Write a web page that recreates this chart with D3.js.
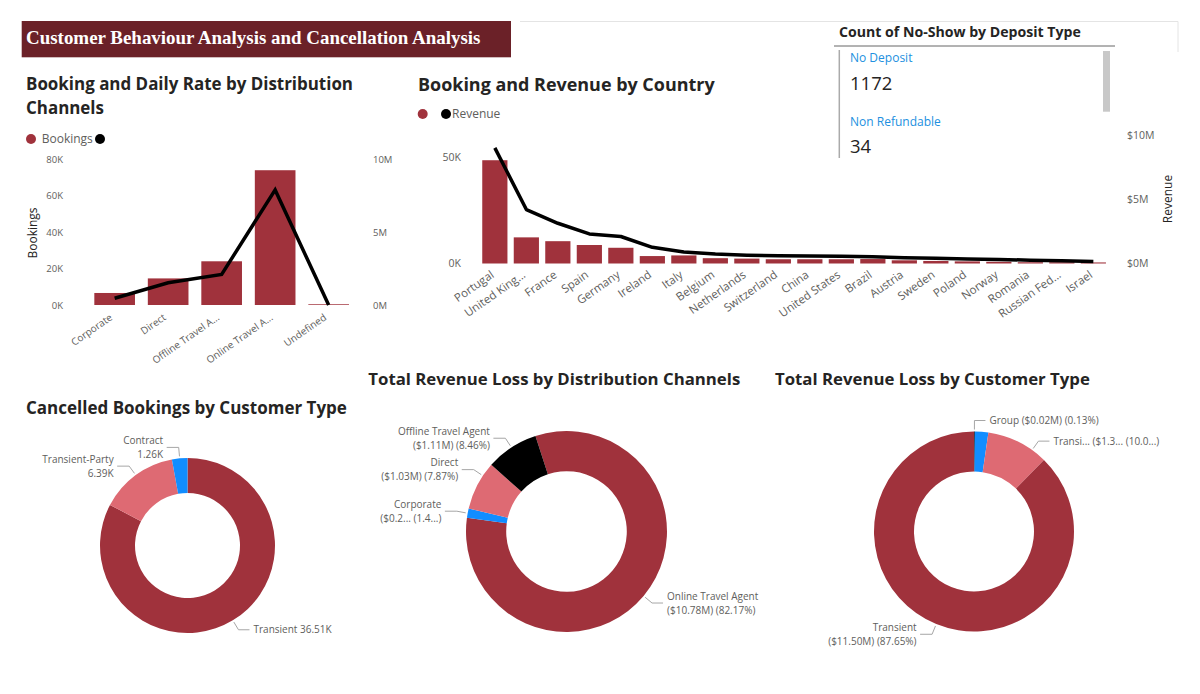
<!DOCTYPE html>
<html><head><meta charset="utf-8">
<script src="https://cdn.jsdelivr.net/npm/d3@7"></script>
<style>
body{margin:0;background:#fff;}
svg{display:block;font-family:'Open Sans',sans-serif;}
</style></head><body>
<svg id="c" width="1200" height="694"></svg>
<script>
// ---------------- DATA ----------------
const channels = ["Corporate","Direct","Offline Travel A...","Online Travel A...","Undefined"];
const channelBookings = [6600,14600,24000,74000,400];
const channelRevenueM = [0.46,1.53,2.1,7.9,0];
const channelBookingTicks = [0,20000,40000,60000,80000];
const channelBookingTickLabels = ["0K","20K","40K","60K","80K"];
const channelRevenueTicks = [0,5,10];
const channelRevenueTickLabels = ["0M","5M","10M"];

const countries = ["Portugal","United King...","France","Spain","Germany","Ireland","Italy","Belgium","Netherlands","Switzerland","China","United States","Brazil","Austria","Sweden","Poland","Norway","Romania","Russian Fed...","Israel"];
const countryBookings = [48600,12300,10500,8700,7400,3500,3800,2500,2300,2000,2000,2000,2100,1500,1200,1000,800,600,600,500];
const countryRevenueM = [9.0,4.2,3.13,2.3,2.1,1.26,0.9,0.74,0.65,0.6,0.58,0.56,0.52,0.45,0.4,0.35,0.31,0.26,0.22,0.15];
const countryBookingTicks = [0,50000];
const countryBookingTickLabels = ["0K","50K"];
const countryRevenueTicks = [0,5,10];
const countryRevenueTickLabels = ["$0M","$5M","$10M"];

const depositTypes = ["No Deposit","Non Refundable"];
const noShowCounts = [1172,34];

const cancelTypes = ["Transient","Transient-Party","Contract"];
const cancelCounts = [36510,6390,1260];
const cancelLabels = [["Transient 36.51K"],["Transient-Party","6.39K"],["Contract","1.26K"]];

const lossChannels = ["Online Travel Agent","Corporate","Direct","Offline Travel Agent"];
const lossChannelValuesM = [10.78,0.197,1.033,1.11];
const lossChannelLabels = [["Online Travel Agent","($10.78M) (82.17%)"],["Corporate","($0.2... (1.4...)"],["Direct","($1.03M) (7.87%)"],["Offline Travel Agent","($1.11M) (8.46%)"]];

const lossCustTypes = ["Group","Contract","Transient-Party","Transient"];
const lossCustValuesM = [0.017,0.285,1.315,11.5];
const lossCustLabels = [["Group ($0.02M) (0.13%)"],null,["Transi... ($1.3... (10.0...)"],["Transient","($11.50M) (87.65%)"]];

// ---------------- STYLE ----------------
const DARK="#A0323C", PINK="#DE6A73", BLUE="#118DFF", BLACK="#000000";
const AX="#605E5C", TITLE="#252423";
const svg = d3.select("#c");

function fit(sel,w){
  const l=sel.node().getComputedTextLength();
  const fs=parseFloat(sel.attr("font-size"));
  const n=fs*w/l; sel.attr("font-size",n.toFixed(2)); return n;
}
function title(x,y,t,w){
  const s=svg.append("text").attr("x",x).attr("y",y).attr("font-size",19)
    .attr("font-weight",700).attr("fill",TITLE).text(t);
  return fit(s,w);
}
function styleAxis(g,fs){
  g.select(".domain").remove();
  g.selectAll("text").attr("fill",AX).attr("font-size",fs).attr("font-family","'Open Sans',sans-serif");
}

// ---------------- BANNER ----------------
svg.append("path").attr("d","M520,21.5H1178V52").attr("fill","none").attr("stroke","#e4e4e4");
svg.append("rect").attr("x",21.7).attr("y",21).attr("width",489.3).attr("height",36.3).attr("fill","#6B2128");
const bt=svg.append("text").attr("x",26).attr("y",44).attr("font-family","'Liberation Serif','Times New Roman',serif")
  .attr("font-weight","bold").attr("font-size",20).attr("fill","#fff")
  .text("Customer Behaviour Analysis and Cancellation Analysis");
fit(bt,455);

// ---------------- CHART 1: Booking and Daily Rate ----------------
const fs1=title(26,90,"Booking and Daily Rate by Distribution",327);
svg.append("text").attr("x",26).attr("y",113.5).attr("font-size",fs1).attr("font-weight",700).attr("fill",TITLE).text("Channels");

svg.append("circle").attr("cx",31).attr("cy",139).attr("r",5).attr("fill",DARK);
svg.append("text").attr("x",41.7).attr("y",139).attr("dy","0.35em").attr("font-size",12).attr("fill",AX).text("Bookings");
svg.append("circle").attr("cx",100).attr("cy",139).attr("r",5).attr("fill",BLACK);

const x1=d3.scaleBand().domain(channels).range([87.9,355.4]).paddingInner(0.24).paddingOuter(0.12);
const y1L=d3.scaleLinear().domain([0,80000]).range([305,159.3]);
const y1R=d3.scaleLinear().domain([0,10]).range([305,159.3]);

svg.append("g").selectAll("rect").data(channels).join("rect")
  .attr("x",d=>x1(d)).attr("width",x1.bandwidth())
  .attr("y",(d,i)=>y1L(channelBookings[i])).attr("height",(d,i)=>y1L(0)-y1L(channelBookings[i]))
  .attr("fill",DARK);
svg.append("path").datum(channelRevenueM)
  .attr("d",d3.line().x((d,i)=>x1(channels[i])+x1.bandwidth()/2).y(d=>y1R(d)))
  .attr("fill","none").attr("stroke",BLACK).attr("stroke-width",3.5);

const a1l=svg.append("g").attr("transform","translate(66,0)")
  .call(d3.axisLeft(y1L).tickValues(channelBookingTicks).tickFormat((d,i)=>channelBookingTickLabels[i]).tickSize(0).tickPadding(3));
styleAxis(a1l,9.5);
const a1r=svg.append("g").attr("transform","translate(370,0)")
  .call(d3.axisRight(y1R).tickValues(channelRevenueTicks).tickFormat((d,i)=>channelRevenueTickLabels[i]).tickSize(0).tickPadding(3));
styleAxis(a1r,9.5);
const a1x=svg.append("g").attr("transform","translate(0,305)").call(d3.axisBottom(x1).tickSize(0));
styleAxis(a1x,10);
a1x.selectAll("text").attr("y",0).attr("dy",0).attr("transform","translate(-1.5,14) rotate(-35)").style("text-anchor","end");
svg.append("text").attr("transform","translate(36.5,233) rotate(-90)").attr("text-anchor","middle")
  .attr("font-size",12).attr("fill",TITLE).text("Bookings");

// ---------------- CHART 2: Booking and Revenue by Country ----------------
title(418,90.5,"Booking and Revenue by Country",297);
svg.append("circle").attr("cx",422.7).attr("cy",114).attr("r",5).attr("fill",DARK);
svg.append("circle").attr("cx",446).attr("cy",114).attr("r",5).attr("fill",BLACK);
svg.append("text").attr("x",452).attr("y",114).attr("dy","0.35em").attr("font-size",12).attr("fill",AX).text("Revenue");

const x2=d3.scaleBand().domain(countries).range([479.1,1109.1]).paddingInner(0.2).paddingOuter(0.1);
const y2L=d3.scaleLinear().domain([0,60000]).range([263.5,136]);
const y2R=d3.scaleLinear().domain([0,10]).range([263.5,135]);
svg.append("g").selectAll("rect").data(countries).join("rect")
  .attr("x",d=>x2(d)).attr("width",x2.bandwidth())
  .attr("y",(d,i)=>y2L(countryBookings[i])).attr("height",(d,i)=>y2L(0)-y2L(countryBookings[i]))
  .attr("fill",DARK);
svg.append("path").datum(countryRevenueM)
  .attr("d",d3.line().x((d,i)=>x2(countries[i])+x2.bandwidth()/2).y(d=>y2R(d)))
  .attr("fill","none").attr("stroke",BLACK).attr("stroke-width",3.5).attr("stroke-linejoin","round");
const a2l=svg.append("g").attr("transform","translate(464,0)")
  .call(d3.axisLeft(y2L).tickValues(countryBookingTicks).tickFormat((d,i)=>countryBookingTickLabels[i]).tickSize(0).tickPadding(3));
styleAxis(a2l,10.5);
const a2r=svg.append("g").attr("transform","translate(1124,0)")
  .call(d3.axisRight(y2R).tickValues(countryRevenueTicks).tickFormat((d,i)=>countryRevenueTickLabels[i]).tickSize(0).tickPadding(3));
styleAxis(a2r,10.5);
const a2x=svg.append("g").attr("transform","translate(0,263.5)").call(d3.axisBottom(x2).tickSize(0));
styleAxis(a2x,11.5);
a2x.selectAll("text").attr("y",0).attr("dy",0).attr("transform","translate(0,13) rotate(-35)").style("text-anchor","end");
svg.append("text").attr("transform","translate(1172,199) rotate(-90)").attr("text-anchor","middle")
  .attr("font-size",12).attr("fill",TITLE).text("Revenue");

// ---------------- CARD: No-show ----------------
const ct=svg.append("text").attr("x",839).attr("y",37.3).attr("font-size",15).attr("font-weight",700).attr("fill",TITLE)
  .text("Count of No-Show by Deposit Type");
fit(ct,242);
svg.append("line").attr("x1",834).attr("x2",1115).attr("y1",46).attr("y2",46).attr("stroke","#666").attr("stroke-width",1);
svg.append("line").attr("x1",839.3).attr("x2",839.3).attr("y1",50).attr("y2",158).attr("stroke","#aaa").attr("stroke-width",1.5);
svg.append("rect").attr("x",1103).attr("y",51).attr("width",7).attr("height",60.7).attr("fill","#c8c8c8");
const card=svg.append("g");
depositTypes.forEach((t,i)=>{
  card.append("text").attr("x",850).attr("y",61.7+i*64).attr("font-size",12).attr("fill","#2190E0").text(t);
  card.append("text").attr("x",850).attr("y",90+i*63).attr("font-size",18.5).attr("fill",TITLE).text(noShowCounts[i]);
});

// ---------------- DONUTS ----------------
function donut(cx,cy,r,values,colors,startDeg,labels,angleOverride){
  const g=svg.append("g");
  const s=startDeg*Math.PI/180;
  const arcs=d3.pie().sort(null).startAngle(s).endAngle(s+2*Math.PI)(values);
  const arc=d3.arc().innerRadius(r*0.6).outerRadius(r);
  g.append("g").attr("transform",`translate(${cx},${cy})`).selectAll("path").data(arcs).join("path")
    .attr("d",arc).attr("fill",(d,i)=>colors[i]);
  arcs.forEach((a,i)=>{
    if(!labels[i]) return;
    const ang=angleOverride[i]!=null?angleOverride[i]*Math.PI/180:(a.startAngle+a.endAngle)/2;
    const sx=Math.sin(ang), sy=-Math.cos(ang);
    const p0=[cx+(r+2)*sx,cy+(r+2)*sy], p1=[cx+(r+11)*sx,cy+(r+11)*sy];
    const right=sx>=0;
    const p2=[p1[0]+(right?11:-12),p1[1]];
    g.append("path").attr("d",`M${p0}L${p1}L${p2}`).attr("fill","none").attr("stroke","#a6a6a6").attr("stroke-width",1);
    const t=g.append("text").attr("font-size",10).attr("fill",AX).attr("text-anchor",right?"start":"end");
    const n=labels[i].length;
    labels[i].forEach((ln,k)=>{
      t.append("tspan").attr("x",p2[0]+(right?4:-3.5)).attr("y",p1[1]+(k-(n-1)/2)*14+3.5).text(ln);
    });
  });
}
title(26,413.5,"Cancelled Bookings by Customer Type",321);
title(368.3,385,"Total Revenue Loss by Distribution Channels",372);
title(775,385,"Total Revenue Loss by Customer Type",315);

donut(187.5,545.5,87.5,cancelCounts,[DARK,PINK,BLUE],0,cancelLabels,[null,null,null]);
donut(566.5,531.5,100.5,lossChannelValuesM,[DARK,BLUE,PINK,BLACK],-18,lossChannelLabels,[null,null,303.7,null]);
donut(974,531.5,100,lossCustValuesM,[BLACK,BLUE,PINK,DARK],0,lossCustLabels,[null,null,35.5,null]);
</script>
</body></html>
